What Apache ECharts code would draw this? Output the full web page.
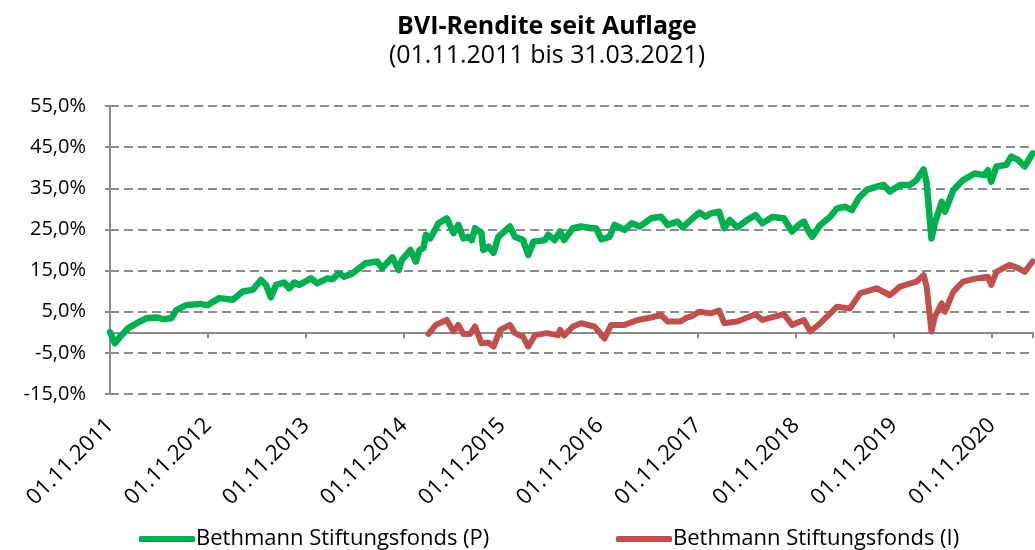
<!DOCTYPE html>
<html>
<head>
<meta charset="utf-8">
<script src="https://cdn.jsdelivr.net/npm/echarts@6/dist/echarts.min.js"></script>
<style>
  html, body { margin: 0; padding: 0; background: #fff; }
  #chart { width: 1035px; height: 550px; }
</style>
</head>
<body>
<div id="chart"></div>
<script>
// Bethmann Stiftungsfonds (P)
const datesP = ['2011-11-01', '2011-11-19', '2011-12-08', '2012-01-08', '2012-02-09', '2012-03-15', '2012-04-22', '2012-05-16', '2012-06-16', '2012-07-05',
  '2012-08-12', '2012-09-30', '2012-10-31', '2012-11-19', '2012-12-13', '2013-02-02', '2013-03-09', '2013-04-15', '2013-05-16', '2013-06-04',
  '2013-06-22', '2013-07-11', '2013-08-11', '2013-08-30', '2013-09-18', '2013-10-06', '2013-11-19', '2013-12-13', '2014-01-20', '2014-02-08',
  '2014-03-02', '2014-03-21', '2014-04-21', '2014-06-10', '2014-07-23', '2014-08-11', '2014-09-18', '2014-10-12', '2014-10-24', '2014-11-25',
  '2014-12-15', '2014-12-29', '2015-01-13', '2015-01-22', '2015-02-07', '2015-03-08', '2015-04-08', '2015-05-03', '2015-05-21', '2015-06-09',
  '2015-06-28', '2015-07-10', '2015-07-23', '2015-08-16', '2015-08-23', '2015-09-11', '2015-09-30', '2015-10-18', '2015-11-30', '2015-12-19',
  '2016-01-19', '2016-02-07', '2016-02-26', '2016-04-09', '2016-04-21', '2016-05-15', '2016-06-04', '2016-06-19', '2016-07-22', '2016-08-22',
  '2016-09-29', '2016-10-17', '2016-11-06', '2016-12-06', '2016-12-25', '2017-02-01', '2017-02-26', '2017-03-27', '2017-05-09', '2017-06-15',
  '2017-07-10', '2017-08-16', '2017-09-05', '2017-10-05', '2017-11-06', '2017-11-30', '2017-12-18', '2018-01-19', '2018-02-07', '2018-02-26',
  '2018-03-26', '2018-05-02', '2018-06-02', '2018-06-27', '2018-08-04', '2018-09-16', '2018-10-17', '2018-11-11', '2018-11-30', '2018-12-18',
  '2018-12-31', '2019-01-31', '2019-03-07', '2019-04-01', '2019-05-02', '2019-05-27', '2019-06-21', '2019-07-21', '2019-08-28', '2019-09-23',
  '2019-10-16', '2019-11-23', '2019-12-30', '2020-01-24', '2020-02-19', '2020-03-01', '2020-03-19', '2020-04-01', '2020-04-26', '2020-05-08',
  '2020-06-09', '2020-07-15', '2020-08-28', '2020-10-04', '2020-10-16', '2020-10-29', '2020-11-17', '2020-12-24', '2021-01-12', '2021-02-06',
  '2021-03-01', '2021-03-31']
const valuesP = [0, -2.7, -1.1, 1.0, 2.2, 3.4, 3.6, 3.2, 3.4, 5.4,
  6.6, 6.9, 6.6, 7.4, 8.3, 7.9, 9.9, 10.3, 12.7, 11.5,
  8.5, 11.5, 12.1, 10.7, 12.1, 11.5, 13.1, 11.9, 13.1, 12.9,
  14.4, 13.5, 14.3, 16.8, 17.2, 15.6, 18.2, 15.1, 17.6, 20.0,
  17.2, 20.0, 20.5, 23.7, 22.8, 26.5, 27.7, 24.1, 26.1, 22.8,
  23.2, 22.4, 25.3, 24.1, 20.0, 20.8, 19.3, 23.2, 25.7, 23.2,
  22.4, 18.8, 22.0, 22.4, 23.7, 22.4, 24.5, 22.4, 25.3, 25.7,
  25.3, 25.3, 22.6, 23.2, 26.1, 24.9, 26.5, 25.7, 27.7, 28.1,
  26.1, 26.9, 25.5, 27.3, 29.1, 28.1, 28.9, 29.3, 25.3, 27.3,
  25.5, 27.3, 28.5, 26.5, 28.0, 27.7, 24.5, 26.1, 26.9, 24.5,
  23.2, 26.1, 28.1, 30.1, 30.5, 29.7, 32.6, 34.6, 35.4, 35.8,
  34.2, 35.8, 35.8, 37.0, 39.6, 36.2, 22.8, 26.5, 31.7, 29.3,
  34.6, 37.0, 38.6, 38.2, 39.4, 36.6, 40.3, 40.7, 42.7, 41.9,
  40.3, 43.5]

// Bethmann Stiftungsfonds (I)
const datesI = ['2015-02-01', '2015-02-26', '2015-04-08', '2015-05-03', '2015-05-21', '2015-06-09', '2015-07-04', '2015-07-23', '2015-08-16', '2015-09-11',
  '2015-09-30', '2015-10-24', '2015-11-30', '2015-12-19', '2016-01-19', '2016-02-07', '2016-03-02', '2016-04-15', '2016-05-28', '2016-06-04',
  '2016-06-19', '2016-07-22', '2016-08-22', '2016-10-11', '2016-11-18', '2016-12-12', '2017-02-01', '2017-03-20', '2017-05-09', '2017-06-15',
  '2017-07-10', '2017-08-28', '2017-09-20', '2017-10-05', '2017-11-06', '2017-12-18', '2018-01-19', '2018-02-07', '2018-03-26', '2018-06-02',
  '2018-06-27', '2018-09-16', '2018-10-17', '2018-11-30', '2018-12-24', '2019-01-31', '2019-04-01', '2019-05-20', '2019-06-27', '2019-08-28',
  '2019-10-16', '2019-11-23', '2020-01-24', '2020-02-19', '2020-03-01', '2020-03-19', '2020-04-01', '2020-04-26', '2020-05-08', '2020-06-09',
  '2020-07-15', '2020-09-04', '2020-10-16', '2020-10-29', '2020-11-17', '2021-01-05', '2021-02-06', '2021-03-01', '2021-03-31']
const valuesI = [-0.4, 1.8, 3.0, 0.2, 1.8, -0.4, -0.4, 1.4, -2.7, -2.5,
  -3.5, 0.5, 1.8, -0.2, -1.1, -3.5, -0.7, -0.2, -0.7, 0.6,
  -0.8, 1.4, 2.2, 1.4, -1.5, 1.8, 1.8, 3.0, 3.6, 4.2,
  2.6, 2.6, 3.6, 3.8, 5.0, 4.6, 5.3, 2.2, 2.6, 4.4,
  3.0, 4.4, 1.8, 3.0, 0.2, 2.2, 6.2, 5.8, 9.5, 10.7,
  9.0, 11.1, 12.3, 13.9, 11.0, 0.2, 3.8, 7.0, 5.0, 9.9,
  12.3, 13.1, 13.5, 11.5, 14.7, 16.4, 15.6, 14.7, 17.2]

const yTicks = [-15, -5, 5, 15, 25, 35, 45, 55]
const fontName = 'Open Sans'

// months since 01.11.2011
function toMonths(d) {
  const [y, m, day] = d.split('-').map(Number)
  const dim = new Date(Date.UTC(y, m, 0)).getUTCDate()
  return (y - 2011) * 12 + (m - 11) + (day - 1) / dim
}

const chart = echarts.init(document.getElementById('chart'))
chart.setOption({
  animation: false,
  backgroundColor: '#fff',
  textStyle: { fontFamily: fontName, color: '#000' },
  title: [
    {
      text: 'BVI-Rendite seit Auflage',
      left: 542, top: 9, textAlign: 'center',
      textStyle: { fontFamily: fontName, fontWeight: 'bold', fontSize: 25, color: '#000' }
    },
    {
      text: '(01.11.2011 bis 31.03.2021)',
      left: 542, top: 38, textAlign: 'center',
      textStyle: { fontFamily: fontName, fontWeight: 'normal', fontSize: 25, color: '#000' }
    }
  ],
  legend: [
    {
      data: ['Bethmann Stiftungsfonds (P)'],
      left: 134, top: 523,
      icon: 'roundRect', itemWidth: 56, itemHeight: 6, itemGap: 0,
      textStyle: { fontFamily: fontName, fontSize: 22, color: '#000', padding: [0, 0, 0, -4] }
    },
    {
      data: ['Bethmann Stiftungsfonds (I)'],
      left: 611, top: 523,
      icon: 'roundRect', itemWidth: 56, itemHeight: 6, itemGap: 0,
      textStyle: { fontFamily: fontName, fontSize: 22, color: '#000', padding: [0, 0, 0, -4] }
    }
  ],
  grid: { left: 110, right: -2, top: 106, bottom: 156 },
  xAxis: [
    {
      type: 'value',
      min: 0, max: 113, interval: 12,
      axisLine: { show: false, onZero: false },
      axisTick: { show: false },
      splitLine: { show: false },
      axisLabel: {
        rotate: 45, margin: 28, fontSize: 22, color: '#000', fontFamily: fontName,
        formatter: v => (v % 12 === 0 ? '01.11.' + (2011 + v / 12) : '')
      }
    },
    {
      type: 'value',
      position: 'bottom',
      min: 0, max: 113, interval: 12,
      axisLine: { show: true, onZero: true, lineStyle: { color: '#8c8c8c', width: 2 } },
      axisTick: { show: true, length: 6, lineStyle: { color: '#8c8c8c', width: 2 } },
      splitLine: { show: false },
      axisLabel: { show: false }
    }
  ],
  yAxis: {
    type: 'value',
    min: yTicks[0], max: yTicks[yTicks.length - 1], interval: 10,
    axisLine: { show: true, lineStyle: { color: '#8c8c8c', width: 2 } },
    axisTick: { show: true, length: 5, lineStyle: { color: '#8c8c8c', width: 2 } },
    splitLine: { show: true, lineStyle: { color: '#8c8c8c', width: 2, type: [9, 5] } },
    axisLabel: {
      margin: 24, fontSize: 20, color: '#000', fontFamily: fontName,
      formatter: v => v.toFixed(1).replace('.', ',') + '%'
    }
  },
  series: [
    {
      name: 'Bethmann Stiftungsfonds (P)',
      type: 'line',
      showSymbol: false,
      color: '#00b050',
      lineStyle: { width: 6.5, color: '#00b050', join: 'round', cap: 'round' },
      data: datesP.map((d, i) => [toMonths(d), valuesP[i]])
    },
    {
      name: 'Bethmann Stiftungsfonds (I)',
      type: 'line',
      showSymbol: false,
      color: '#c0504d',
      lineStyle: { width: 6, color: '#c0504d', join: 'round', cap: 'round' },
      data: datesI.map((d, i) => [toMonths(d), valuesI[i]])
    }
  ]
})
</script>
</body>
</html>
